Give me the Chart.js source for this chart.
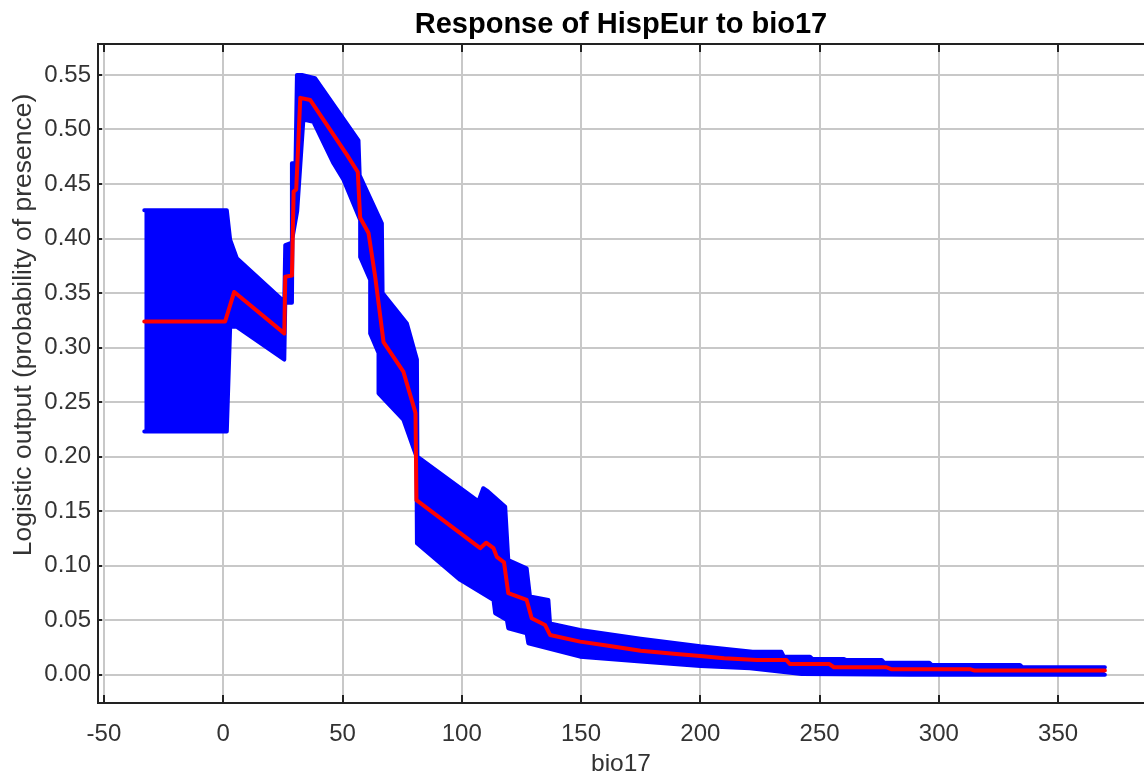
<!DOCTYPE html>
<html><head><meta charset="utf-8">
<script src="https://cdn.jsdelivr.net/npm/chart.js@4.4.0/dist/chart.umd.min.js"></script>
<style>html,body{margin:0;padding:0;background:#fff;}#wrap{width:1144px;height:776px;}</style>
</head><body><div id="wrap"><canvas id="c" width="1144" height="776"></canvas></div>
<script>
const titleText = "Response of HispEur to bio17";
const xLabel = "bio17";
const yLabel = "Logistic output (probability of presence)";
const xTicks = [-50, 0, 50, 100, 150, 200, 250, 300, 350];
const yTicks = [0.00, 0.05, 0.10, 0.15, 0.20, 0.25, 0.30, 0.35, 0.40, 0.45, 0.50, 0.55];

const meanX = [-33.1, 0.8, 4.6, 25.6, 26.0, 28.8, 29.5, 30.6, 32.3, 36.5, 51.8, 56.4, 57.4, 60.9, 63.7, 67.2, 75.5, 79.8, 80.6, 81.0, 107.7, 110.2, 113.3, 114.7, 117.7, 119.5, 127.2, 129.3, 134.9, 137.0, 149.6, 160, 175, 190, 200, 210, 223.7, 236.0, 237.5, 254.0, 256.0, 278.0, 280.0, 313.0, 315.0, 369.6];
const meanY = [0.324, 0.324, 0.351, 0.313, 0.365, 0.366, 0.443, 0.445, 0.529, 0.527, 0.477, 0.461, 0.419, 0.405, 0.365, 0.305, 0.278, 0.246, 0.240, 0.160, 0.116, 0.121, 0.116, 0.108, 0.103, 0.0747, 0.0685, 0.0517, 0.0456, 0.0364, 0.0303, 0.027, 0.022, 0.019, 0.017, 0.015, 0.0135, 0.0135, 0.0098, 0.0098, 0.0068, 0.0068, 0.0050, 0.0050, 0.0037, 0.0037];

const upperX = [-33.1, 1.5, 2.9, 5.7, 25.6, 26.0, 28.5, 28.8, 30.3, 30.9, 33.0, 38.5, 56.7, 57.2, 66.5, 66.8, 77.0, 81.2, 81.4, 107.0, 109.0, 111.0, 118.2, 119.5, 127.2, 128.6, 136.3, 137.0, 149.6, 175, 200, 221.9, 234.0, 235.0, 246.0, 247.0, 260.0, 261.0, 276.0, 277.0, 296.0, 297.0, 334.0, 335.0, 369.6];
const upperY = [0.426, 0.426, 0.399, 0.382, 0.342, 0.394, 0.396, 0.469, 0.469, 0.550, 0.550, 0.547, 0.490, 0.458, 0.414, 0.350, 0.322, 0.289, 0.200, 0.159, 0.171, 0.168, 0.154, 0.105, 0.0976, 0.0716, 0.0685, 0.047, 0.041, 0.033, 0.026, 0.021, 0.021, 0.0165, 0.0165, 0.0144, 0.0144, 0.0135, 0.0135, 0.011, 0.011, 0.0089, 0.0089, 0.0068, 0.0068];

const lowerX = [-33.1, 1.5, 2.9, 5.7, 25.6, 26.0, 28.8, 29.0, 31.0, 33.6, 37.8, 46.2, 50.4, 57.4, 57.4, 61.6, 61.6, 65.1, 65.1, 75.5, 81.0, 81.2, 99.3, 113.3, 114.0, 118.9, 119.5, 127.2, 127.9, 149.6, 175, 200, 220.8, 242.5, 288.0, 369.6];
const lowerY = [0.223, 0.223, 0.319, 0.319, 0.289, 0.341, 0.341, 0.400, 0.425, 0.509, 0.507, 0.469, 0.454, 0.417, 0.383, 0.362, 0.313, 0.295, 0.258, 0.234, 0.200, 0.1205, 0.0869, 0.0685, 0.0563, 0.0502, 0.0426, 0.038, 0.0288, 0.0165, 0.012, 0.008, 0.0059, 0.0006, 0.0, 0.0];

const toPts = (xs, ys) => xs.map((x, i) => ({x: x, y: ys[i]}));
const BLUE = '#0000ff';

const framePlugin = {
  id: 'frame',
  afterDraw(chart) {
    const {ctx, chartArea: a, scales} = chart;
    ctx.save();
    ctx.strokeStyle = '#222';
    ctx.lineWidth = 2;
    ctx.beginPath();
    ctx.moveTo(a.left - 1, a.top); ctx.lineTo(a.right, a.top);
    ctx.stroke();
    ctx.lineWidth = 2;
    ctx.beginPath();
    scales.x.ticks.forEach(t => {
      const px = Math.round(scales.x.getPixelForValue(t.value));
      ctx.moveTo(px, a.bottom); ctx.lineTo(px, a.bottom - 8);
      ctx.moveTo(px, a.top); ctx.lineTo(px, a.top + 8);
    });
    scales.y.ticks.forEach(t => {
      const py = Math.round(scales.y.getPixelForValue(t.value));
      ctx.moveTo(a.left, py); ctx.lineTo(a.left + 4, py);
    });
    ctx.stroke();
    // y axis title
    ctx.fillStyle = '#333';
    ctx.font = '26.5px "Liberation Sans", Arial, sans-serif';
    ctx.textAlign = 'center';
    ctx.textBaseline = 'middle';
    ctx.translate(24, 325);
    ctx.rotate(-Math.PI / 2);
    ctx.fillText(yLabel, 0, 0);
    ctx.restore();
  }
};

new Chart(document.getElementById('c'), {
  type: 'scatter',
  data: {
    datasets: [
      {label: 'mean', data: toPts(meanX, meanY), showLine: true, borderColor: '#ff0000', borderWidth: 4, pointRadius: 0, fill: false, order: 0, borderJoinStyle: 'round', borderCapStyle: 'round'},
      {label: 'upper', data: toPts(upperX, upperY), showLine: true, borderColor: BLUE, backgroundColor: BLUE, borderWidth: 4, pointRadius: 0, fill: '+1', order: 1, borderJoinStyle: 'round', borderCapStyle: 'round'},
      {label: 'lower', data: toPts(lowerX, lowerY), showLine: true, borderColor: BLUE, borderWidth: 4, pointRadius: 0, fill: false, order: 2, borderJoinStyle: 'round', borderCapStyle: 'round'}
    ]
  },
  options: {
    responsive: false,
    animation: false,
    devicePixelRatio: 1,
    layout: {padding: 0},
    plugins: {
      legend: {display: false},
      tooltip: {enabled: false},
      title: {
        display: true, text: titleText, fullSize: false, color: '#000',
        font: {family: '"Liberation Sans", Arial, sans-serif', size: 29, weight: 'bold', lineHeight: 1.2},
        padding: {top: 8, bottom: 1.2}
      }
    },
    scales: {
      x: {
        type: 'linear', min: -52.5, max: 386,
        afterBuildTicks: s => { s.ticks = xTicks.map(v => ({value: v})); },
        afterFit: s => { s.height = 73; },
        grid: {color: '#c8c8c8', lineWidth: 2, drawTicks: false},
        border: {display: true, color: '#222', width: 2},
        ticks: {color: '#333', padding: 17, maxRotation: 0, font: {family: '"Liberation Sans", Arial, sans-serif', size: 24}, callback: v => String(v)},
        title: {display: true, text: xLabel, color: '#333', font: {family: '"Liberation Sans", Arial, sans-serif', size: 24.5, lineHeight: 1}, padding: {top: 0, bottom: 0}}
      },
      y: {
        type: 'linear', min: -0.026, max: 0.5784,
        afterBuildTicks: s => { s.ticks = yTicks.map(v => ({value: v})); },
        afterFit: s => { s.width = 98; },
        grid: {color: '#c8c8c8', lineWidth: 2, drawTicks: false},
        border: {display: true, color: '#222', width: 2},
        ticks: {color: '#333', padding: 7, font: {family: '"Liberation Sans", Arial, sans-serif', size: 24}, callback: v => Math.abs(v).toFixed(2)},
        title: {display: false}
      }
    }
  },
  plugins: [framePlugin]
});
</script></body></html>
